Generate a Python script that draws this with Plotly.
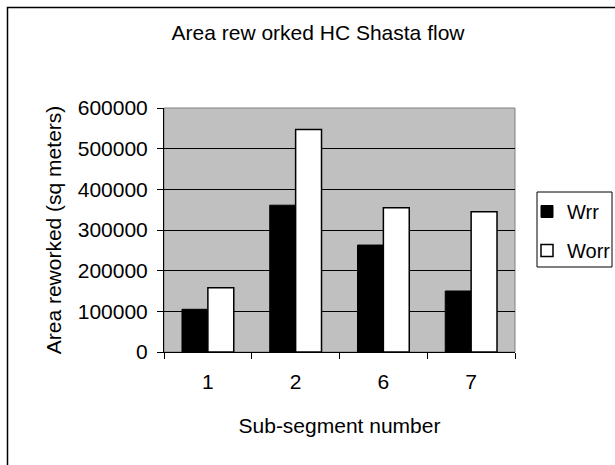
import plotly.graph_objects as go

W, H = 615, 465

categories = ["1", "2", "6", "7"]
wrr = [105000, 361000, 263000, 150000]
worr = [158000, 547000, 355000, 345000]
y_ticks = [0, 100000, 200000, 300000, 400000, 500000, 600000]

# plot area in pixels (from the reference)
px_l, px_r, px_t, px_b = 164, 515, 108, 352
# legend box in pixels
lg_l, lg_r, lg_t, lg_b = 537, 612, 192, 267

font = "Liberation Sans, Arial, sans-serif"
fs = 21

fig = go.Figure()
fig.add_trace(go.Bar(
    x=categories, y=wrr, name="Wrr", legendgroup="a",
    marker=dict(color="black", line=dict(color="black", width=1)),
))
fig.add_trace(go.Bar(
    x=categories, y=worr, name="Worr", legendgroup="b",
    marker=dict(color="white", line=dict(color="black", width=1.5)),
))

fig.update_xaxes(
    domain=[px_l / W, px_r / W],
    type="category",
    tickson="boundaries",
    ticks="outside", ticklen=6, tickcolor="black",
    ticklabelstandoff=11,
    showline=True, linecolor="black", linewidth=1,
    showgrid=False,
    tickfont=dict(family=font, size=fs, color="black"),
    title=dict(text="Sub-segment number", standoff=26,
               font=dict(family=font, size=fs, color="black")),
)
fig.update_yaxes(
    domain=[1 - px_b / H, 1 - px_t / H],
    range=[0, 600000],
    tickvals=y_ticks,
    ticktext=[str(v) for v in y_ticks],
    ticks="outside", ticklen=6, tickcolor="black",
    ticklabelstandoff=5,
    showline=True, linecolor="black", linewidth=1,
    showgrid=True, gridcolor="black", gridwidth=1,
    zeroline=False,
    tickfont=dict(family=font, size=fs, color="black"),
    title=dict(text="Area reworked (sq meters)", standoff=10,
               font=dict(family=font, size=fs, color="black")),
)

# plot area border (grey top / right edges)
fig.add_shape(type="rect", xref="paper", yref="paper",
              x0=px_l / W, x1=px_r / W, y0=1 - px_b / H, y1=1 - px_t / H,
              line=dict(color="#808080", width=1), layer="below")
# outer chart frame
fig.add_shape(type="rect", xref="paper", yref="paper",
              x0=7.5 / W, x1=1.05, y0=-0.05, y1=1 - 7.5 / H,
              line=dict(color="black", width=1.5))
# legend box
fig.add_shape(type="rect", xref="paper", yref="paper",
              x0=lg_l / W, x1=lg_r / W, y0=1 - lg_b / H, y1=1 - lg_t / H,
              line=dict(color="black", width=1), fillcolor="white")

fig.update_layout(
    width=W, height=H,
    margin=dict(l=0, r=0, t=0, b=0, autoexpand=False),
    paper_bgcolor="white",
    plot_bgcolor="#C0C0C0",
    barmode="group",
    bargap=0.41,
    bargroupgap=0,
    title=dict(text="Area rew orked HC Shasta flow", x=318 / W, xanchor="center",
               y=1 - 33 / H, yanchor="middle",
               font=dict(family=font, size=fs, color="black")),
    legend=dict(
        x=527 / W, y=1 - 192 / H, xanchor="left", yanchor="top",
        borderwidth=0, bgcolor="rgba(0,0,0,0)",
        font=dict(family=font, size=20, color="black"),
        tracegroupgap=10,
        itemwidth=30,
        traceorder="grouped",
    ),
    showlegend=True,
)

fig.write_html("out.html", config={"displayModeBar": False},
               post_script="document.body.style.margin='0';")
